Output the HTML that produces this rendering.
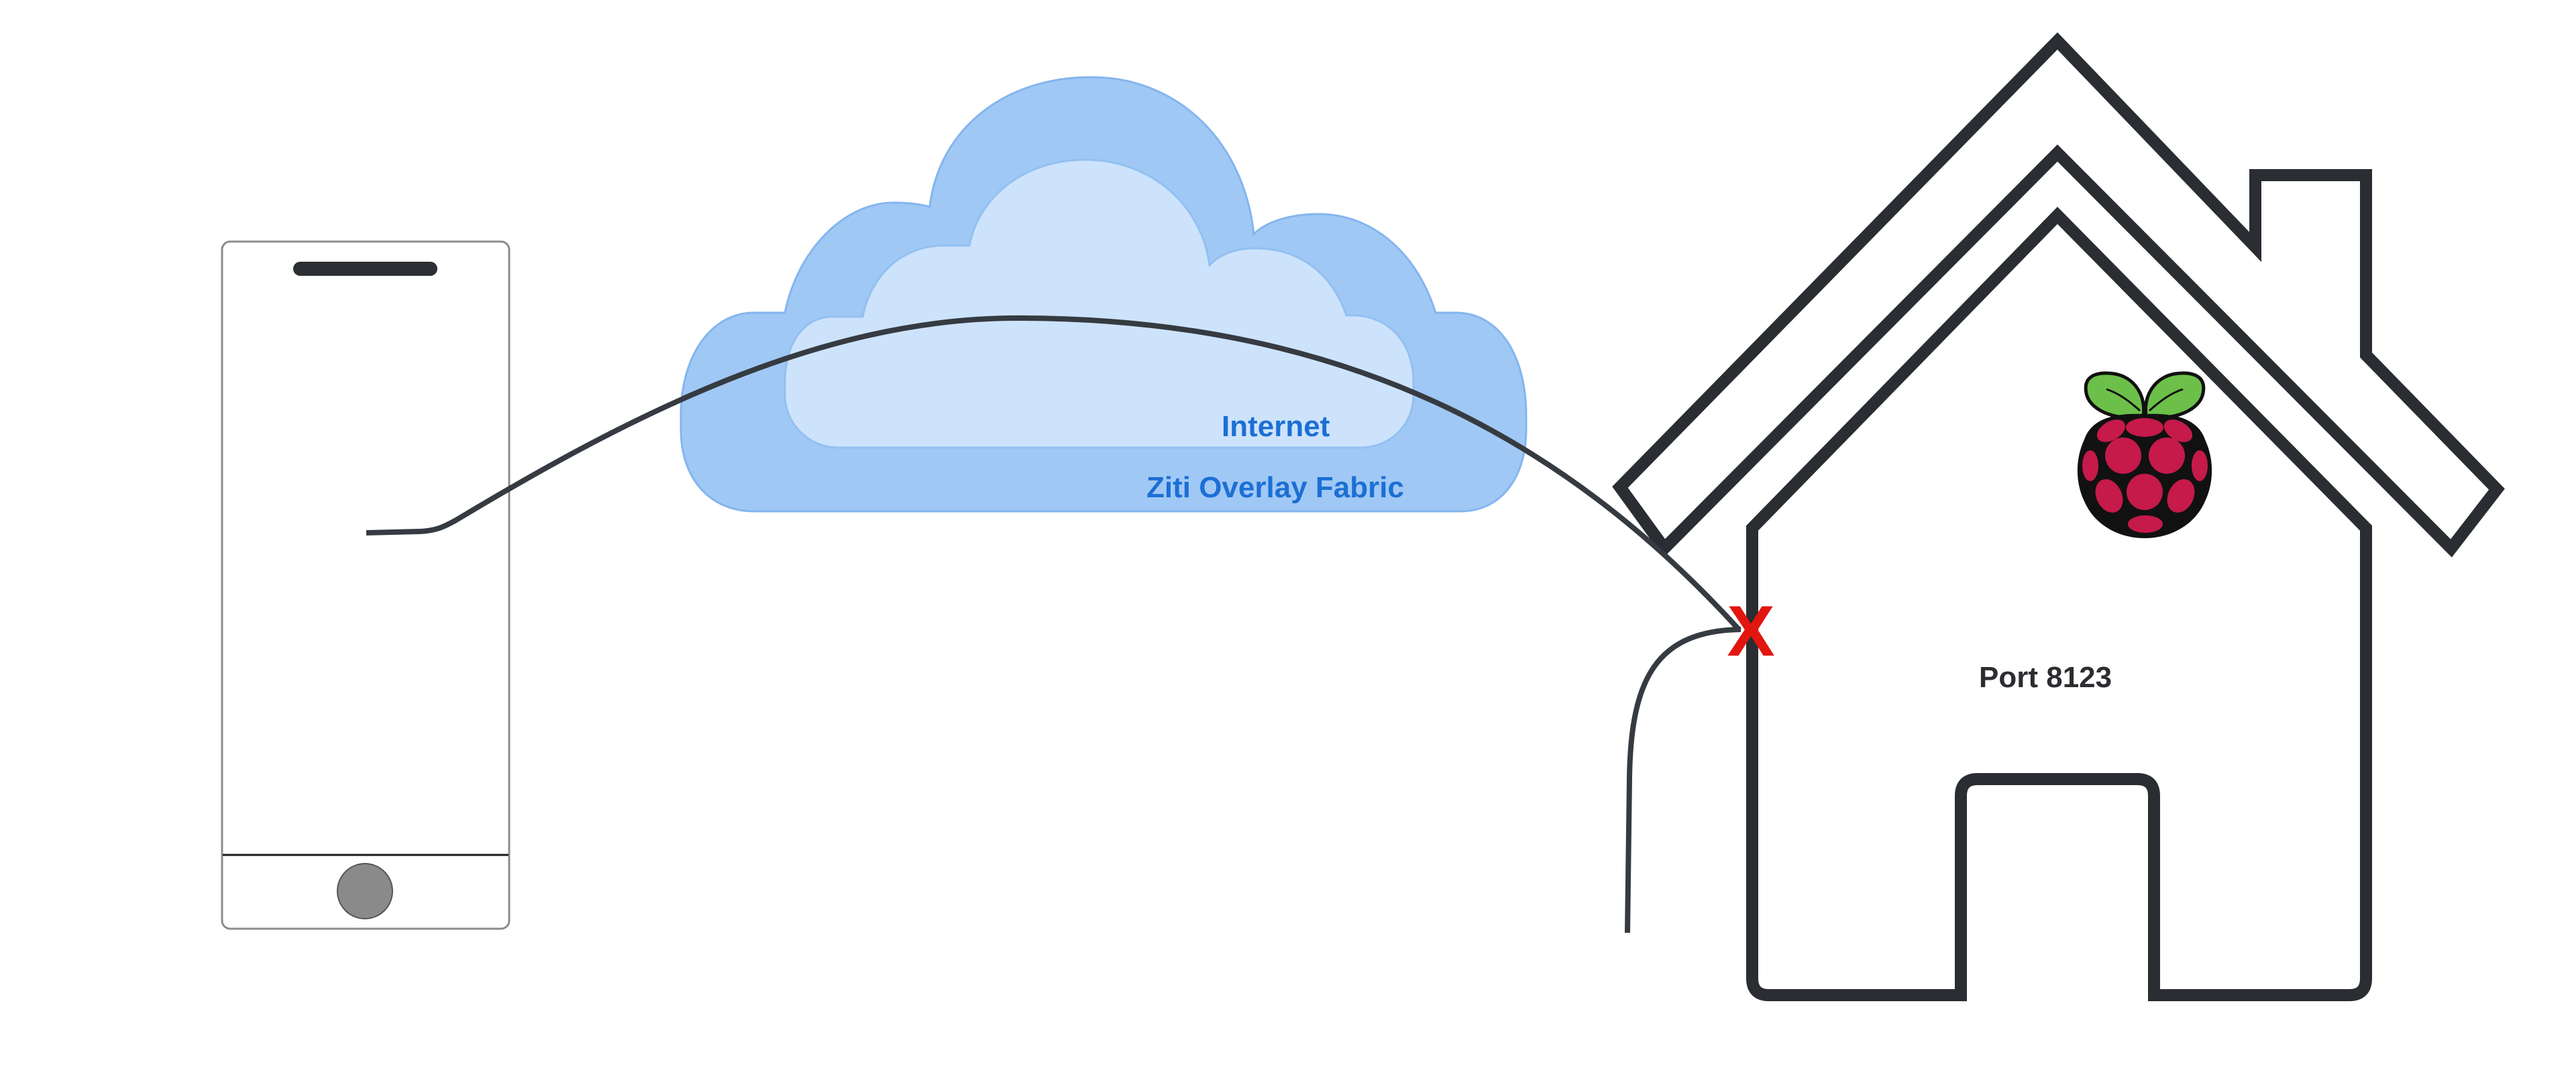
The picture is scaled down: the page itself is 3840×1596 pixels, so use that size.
<!DOCTYPE html>
<html>
<head>
<meta charset="utf-8">
<style>
  html,body{margin:0;padding:0;background:#fff;}
  body{width:3840px;height:1596px;overflow:hidden;}
  svg{display:block;}
  text{font-family:"Liberation Sans", Arial, sans-serif;}
</style>
</head>
<body>
<svg width="3840" height="1596" viewBox="0 0 3840 1596" xmlns="http://www.w3.org/2000/svg">
  <rect width="3840" height="1596" fill="#ffffff"/>

  <!-- Phone -->
  <rect x="331" y="360" width="428" height="1024" rx="12" ry="12" fill="#ffffff" stroke="#8c8c8c" stroke-width="3"/>
  <line x1="332" y1="1274" x2="758" y2="1274" stroke="#1a1a1a" stroke-width="3"/>
  <rect x="437" y="390" width="215" height="21" rx="10.5" ry="10.5" fill="#2b2f33"/>
  <circle cx="544" cy="1328" r="41" fill="#8a8a8a" stroke="#555555" stroke-width="2"/>

  <!-- Cloud outer -->
  <path d="M1124,762 L2177,762 C2235,762 2275,715 2275,640 L2275,619 C2275,530 2235,466 2170,466 L2140,466 C2110,370 2040,319 1966,319 C1920,319 1885,332 1869,349 C1855,215 1760,115 1626,115 C1500,115 1400,190 1386,308 C1370,304 1352,302 1332,302 C1260,302 1190,370 1170,466 L1124,466 C1060,466 1015,530 1015,619 L1015,640 C1015,715 1060,762 1124,762 Z"
        fill="#a0c8f5" stroke="#84b5ee" stroke-width="3"/>
  <!-- Cloud inner -->
  <path d="M1249,667 L2028,667 C2075,667 2107,630 2107,590 L2107,569 C2107,510 2070,472 2020,470 L2007,470 C1985,405 1935,370 1871,370 C1840,370 1818,380 1803,395 C1790,300 1710,238 1618,238 C1530,238 1460,290 1445,366 L1406,366 C1345,366 1298,410 1286,472 L1240,472 C1200,472 1170,510 1170,569 L1170,590 C1170,630 1205,667 1249,667 Z"
        fill="#cde3fb" stroke="#92c0f1" stroke-width="3"/>

  <text x="1821" y="650" font-size="44" font-weight="bold" fill="#1c6fd4">Internet</text>
  <text x="1709" y="741" font-size="44" font-weight="bold" fill="#1c6fd4">Ziti Overlay Fabric</text>

  <!-- House roof -->
  <path d="M3067,61 L2415,726 L2481,817 L3067,228 L3654,817 L3722,729 L3527,529 L3527,261 L3362,261 L3362,368 Z"
        fill="none" stroke="#2a2d31" stroke-width="18" stroke-linejoin="miter"/>
  <!-- House body -->
  <path d="M2923,1483 L2637,1483 Q2612,1483 2612,1458 L2612,787 L3067,321 L3527,787 L3527,1458 Q3527,1483 3502,1483 L3211,1483 L3211,1186 Q3211,1161 3186,1161 L2948,1161 Q2923,1161 2923,1186 Z"
        fill="none" stroke="#2a2d31" stroke-width="18" stroke-linejoin="miter"/>

  <text x="2950" y="1024" font-size="44" font-weight="bold" fill="#2b2d30">Port 8123</text>

  <!-- Wires -->
  <path d="M546,794 L625,792 C650,791 662,785 680,775 C930,625 1216,474 1516,474 C2000,474 2330,650 2593,939"
        fill="none" stroke="#363b42" stroke-width="8" stroke-linecap="butt"/>
  <path d="M2595,938 C2470,940 2431,1010 2429,1160 L2426,1390"
        fill="none" stroke="#363b42" stroke-width="8"/>

  <!-- Red X -->
  <text x="2610" y="977" text-anchor="middle" font-size="107" font-weight="bold" fill="#e2150f">X</text>

  <!-- Raspberry Pi logo -->
  <g>
    <!-- leaves -->
    <path d="M3195,620 C3165,628 3116,616 3110,586 C3105,561 3124,553 3152,557 C3181,562 3199,588 3195,620 Z" fill="#6cc04a" stroke="#111" stroke-width="5" stroke-linejoin="round"/>
    <path d="M3199,620 C3229,628 3278,616 3284,586 C3289,561 3270,553 3242,557 C3213,562 3195,588 3199,620 Z" fill="#6cc04a" stroke="#111" stroke-width="5" stroke-linejoin="round"/>
    <path d="M3190,612 C3172,596 3158,586 3140,580" fill="none" stroke="#111" stroke-width="3"/>
    <path d="M3204,612 C3222,596 3236,586 3254,580" fill="none" stroke="#111" stroke-width="3"/>
    <!-- berry body -->
    <path d="M3197,617 C3240,615 3276,623 3287,655 C3301,685 3300,720 3287,747 C3272,782 3236,802 3197,802 C3158,802 3122,782 3107,747 C3094,720 3093,685 3107,655 C3118,623 3154,615 3197,617 Z" fill="#111"/>
    <!-- drupelets -->
    <ellipse cx="3197" cy="637" rx="28" ry="14" fill="#c51a4a"/>
    <ellipse cx="3147" cy="642" rx="23" ry="14" transform="rotate(-30 3147 642)" fill="#c51a4a"/>
    <ellipse cx="3247" cy="642" rx="23" ry="14" transform="rotate(30 3247 642)" fill="#c51a4a"/>
    <circle cx="3165" cy="679" r="27" fill="#c51a4a"/>
    <circle cx="3230" cy="679" r="27" fill="#c51a4a"/>
    <ellipse cx="3116" cy="694" rx="12" ry="23" fill="#c51a4a"/>
    <ellipse cx="3279" cy="694" rx="12" ry="23" fill="#c51a4a"/>
    <circle cx="3197" cy="733" r="27" fill="#c51a4a"/>
    <ellipse cx="3144" cy="739" rx="19" ry="26" transform="rotate(-25 3144 739)" fill="#c51a4a"/>
    <ellipse cx="3251" cy="739" rx="19" ry="26" transform="rotate(25 3251 739)" fill="#c51a4a"/>
    <ellipse cx="3198" cy="781" rx="26" ry="13" fill="#c51a4a"/>
  </g>
</svg>
</body>
</html>
